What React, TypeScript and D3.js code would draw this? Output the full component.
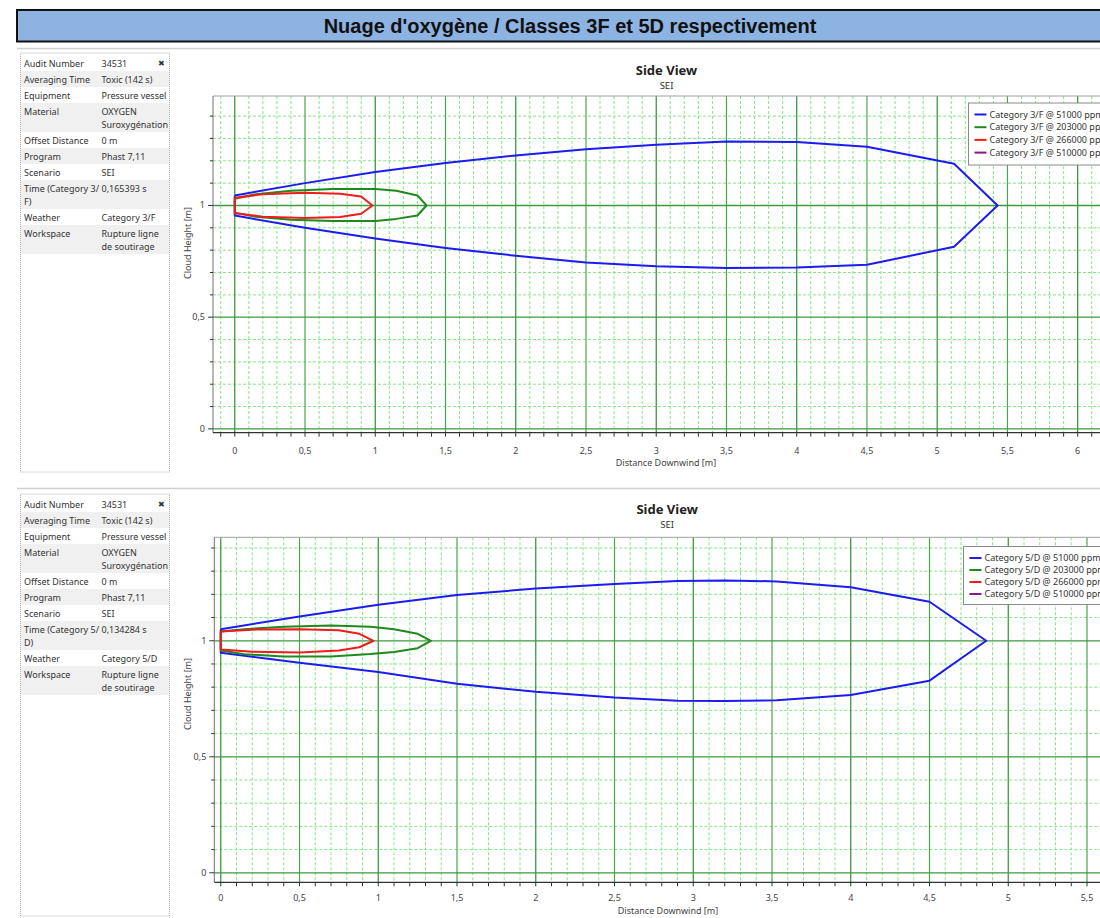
import React from 'react';
import * as d3 from 'd3';

// ---------- Text ----------
const TITLE = "Nuage d'oxygène / Classes 3F et 5D respectivement";
const CHART_TITLE = 'Side View';
const CHART_SUBTITLE = 'SEI';
const X_LABEL = 'Distance Downwind [m]';
const Y_LABEL = 'Cloud Height [m]';

// ---------- Legend / series ----------
const CONCENTRATIONS = ['51000', '203000', '266000', '510000'];
const SERIES_COLORS = ['#1c1cf0', '#1e8a1e', '#f01c1c', '#8a1a8a'];

// ---------- Tick labels ----------
const X_TICKS_TOP = [0, 0.5, 1, 1.5, 2, 2.5, 3, 3.5, 4, 4.5, 5, 5.5, 6];
const X_TICKS_BOTTOM = [0, 0.5, 1, 1.5, 2, 2.5, 3, 3.5, 4, 4.5, 5, 5.5];
const Y_TICKS = [0, 0.5, 1];

// ---------- Info panel ----------
const INFO_LABELS_3F = [
  ['Audit Number'], ['Averaging Time'], ['Equipment'], ['Material'], ['Offset Distance'],
  ['Program'], ['Scenario'], ['Time (Category 3/', 'F)'], ['Weather'], ['Workspace'],
];
const INFO_VALUES_3F = [
  ['34531'], ['Toxic (142 s)'], ['Pressure vessel'], ['OXYGEN', 'Suroxygénation'], ['0 m'],
  ['Phast 7,11'], ['SEI'], ['0,165393 s'], ['Category 3/F'], ['Rupture ligne', 'de soutirage'],
];
const INFO_LABELS_5D = [
  ['Audit Number'], ['Averaging Time'], ['Equipment'], ['Material'], ['Offset Distance'],
  ['Program'], ['Scenario'], ['Time (Category 5/', 'D)'], ['Weather'], ['Workspace'],
];
const INFO_VALUES_5D = [
  ['34531'], ['Toxic (142 s)'], ['Pressure vessel'], ['OXYGEN', 'Suroxygénation'], ['0 m'],
  ['Phast 7,11'], ['SEI'], ['0,134284 s'], ['Category 5/D'], ['Rupture ligne', 'de soutirage'],
];

// ---------- Cloud contours [distance, height] ----------
const CAT3F_51000: [number, number][] = [
  [0, 1.045], [0.5, 1.1], [1, 1.15], [1.5, 1.19], [2, 1.224], [2.5, 1.252], [3, 1.272], [3.5, 1.286],
  [4, 1.284], [4.5, 1.263], [5.12, 1.187], [5.43, 1.0],
  [5.12, 0.815], [4.5, 0.735], [4, 0.722], [3.5, 0.72], [3, 0.728], [2.5, 0.745], [2, 0.775],
  [1.5, 0.81], [1, 0.852], [0.5, 0.9], [0, 0.955], [0, 1.045],
];
const CAT3F_203000: [number, number][] = [
  [0, 1.03], [0.15, 1.05], [0.4, 1.066], [0.7, 1.074], [1.0, 1.074], [1.15, 1.066], [1.3, 1.045], [1.365, 1.0],
  [1.3, 0.955], [1.15, 0.94], [1.0, 0.93], [0.7, 0.93], [0.4, 0.936], [0.15, 0.95], [0, 0.968], [0, 1.03],
];
const CAT3F_266000: [number, number][] = [
  [0, 1.035], [0.2, 1.05], [0.5, 1.057], [0.75, 1.053], [0.9, 1.04], [0.98, 1.0],
  [0.9, 0.963], [0.75, 0.948], [0.5, 0.944], [0.2, 0.95], [0, 0.965], [0, 1.035],
];
const CAT3F_510000: [number, number][] = [];

const CAT5D_51000: [number, number][] = [
  [0, 1.05], [0.5, 1.105], [1, 1.155], [1.5, 1.197], [2, 1.225], [2.5, 1.245], [2.9, 1.258], [3.2, 1.26],
  [3.53, 1.256], [4, 1.231], [4.5, 1.168], [4.86, 1.0],
  [4.5, 0.828], [4, 0.766], [3.53, 0.744], [3.2, 0.74], [2.9, 0.742], [2.5, 0.755], [2, 0.78],
  [1.5, 0.815], [1, 0.865], [0.5, 0.905], [0, 0.948], [0, 1.05],
];
const CAT5D_203000: [number, number][] = [
  [0, 1.04], [0.15, 1.05], [0.4, 1.06], [0.7, 1.066], [0.95, 1.06], [1.1, 1.05], [1.25, 1.03], [1.335, 1.0],
  [1.25, 0.968], [1.1, 0.952], [0.95, 0.943], [0.7, 0.932], [0.4, 0.932], [0.15, 0.942], [0, 0.958], [0, 1.04],
];
const CAT5D_266000: [number, number][] = [
  [0, 1.04], [0.2, 1.048], [0.5, 1.05], [0.75, 1.045], [0.88, 1.03], [0.97, 1.0],
  [0.88, 0.972], [0.75, 0.958], [0.5, 0.95], [0.2, 0.953], [0, 0.962], [0, 1.04],
];
const CAT5D_510000: [number, number][] = [];

const FONT = "'Segoe UI', 'Noto Sans', 'Open Sans', sans-serif";
const fmt = (v: number) => d3.format('~g')(v).replace('.', ',');

type PanelProps = {
  top: number;
  panelBottom: number;
  labels: string[][];
  values: string[][];
  category: string;
  series: [number, number][][];
  xDomain: [number, number];
  xRange: [number, number];
  yDomain: [number, number];
  yRange: [number, number];
  xTicks: number[];
  titleY: number;
  xLabelPos: [number, number];
  yLabelPos: [number, number];
  tickLabelY: number;
  legend: { x: number; y: number; h: number; y0: number; step: number };
  clipId: string;
};

function InfoPanel({ top, bottom, labels, values }: { top: number; bottom: number; labels: string[][]; values: string[][] }) {
  let y = top + 2;
  const rows = labels.map((lab, i) => {
    const n = Math.max(lab.length, values[i].length);
    const h = n === 1 ? 16 : 29;
    const r = { y, h, lab, val: values[i], i };
    y += h;
    return r;
  });
  return (
    <g>
      <rect x={20.5} y={top} width={149} height={bottom - top} fill="#fff" stroke="#b0b0b0" strokeDasharray="1,1" />
      {rows.map((r) => (
        <g key={r.i}>
          {r.i % 2 === 1 && <rect x={21} y={r.y} width={148} height={r.h} fill="#f0f0f0" />}
          {r.lab.map((t, k) => (
            <text key={'l' + k} x={24} y={r.y + 11.5 + k * 13.5} fontSize={9} fontFamily={FONT} fill="#333">{t}</text>
          ))}
          {r.val.map((t, k) => (
            <text key={'v' + k} x={101.5} y={r.y + 11.5 + k * 13.5} fontSize={9} fontFamily={FONT} fill="#333">{t}</text>
          ))}
        </g>
      ))}
      <text x={161} y={top + 12.5} fontSize={8} fontFamily={FONT} fill="#333" textAnchor="middle">✖</text>
    </g>
  );
}

function Panel(p: PanelProps) {
  const x = d3.scaleLinear().domain(p.xDomain).range(p.xRange);
  const y = d3.scaleLinear().domain(p.yDomain).range(p.yRange);
  const [left, right] = p.xRange;
  const [bottom, top] = p.yRange;
  const xi = d3.range(Math.ceil(p.xDomain[0] * 10), Math.floor(p.xDomain[1] * 10) + 1);
  const yi = d3.range(Math.ceil(p.yDomain[0] * 10), Math.floor(p.yDomain[1] * 10) + 1);
  const line = d3.line<[number, number]>().x((d) => x(d[0])).y((d) => y(d[1]));
  const cx = (left + 1100) / 2 + 10;
  return (
    <g>
      <defs>
        <clipPath id={p.clipId}>
          <rect x={left} y={top} width={right - left} height={bottom - top} />
        </clipPath>
      </defs>
      <InfoPanel top={p.top} bottom={p.panelBottom} labels={p.labels} values={p.values} />
      <text x={cx} y={p.titleY} textAnchor="middle" fontSize={13} fontWeight="bold" fontFamily={FONT} fill="#222">{CHART_TITLE}</text>
      <text x={cx} y={p.titleY + 13.5} textAnchor="middle" fontSize={9.5} fontFamily={FONT} fill="#333">{CHART_SUBTITLE}</text>
      <rect x={left} y={top} width={right - left} height={bottom - top} fill="#fff" />
      <g clipPath={`url(#${p.clipId})`}>
        {xi.filter((i) => i % 5 !== 0).map((i) => (
          <line key={'mx' + i} x1={x(i / 10)} x2={x(i / 10)} y1={top} y2={bottom} stroke="#86e686" strokeDasharray="3,2" />
        ))}
        {yi.filter((i) => i % 5 !== 0).map((i) => (
          <line key={'my' + i} x1={left} x2={right} y1={y(i / 10)} y2={y(i / 10)} stroke="#86e686" strokeDasharray="3,2" />
        ))}
        {xi.filter((i) => i % 5 === 0).map((i) => (
          <line key={'Mx' + i} x1={x(i / 10)} x2={x(i / 10)} y1={top} y2={bottom} stroke={i % 10 === 0 ? '#2f8f2f' : '#4aa64a'} strokeWidth={1.2} />
        ))}
        {yi.filter((i) => i % 5 === 0).map((i) => (
          <line key={'My' + i} x1={left} x2={right} y1={y(i / 10)} y2={y(i / 10)} stroke="#3d9a3d" strokeWidth={1.3} />
        ))}
        {p.series.map((s, k) =>
          s.length ? (
            <path key={'s' + k} d={line(s) || ''} fill="none" stroke={SERIES_COLORS[k]} strokeWidth={2} strokeLinejoin="round" />
          ) : null
        )}
      </g>
      {/* border */}
      <line x1={left} x2={right} y1={top} y2={top} stroke="#a0a0a0" />
      <line x1={left} x2={left} y1={top} y2={bottom} stroke="#707070" />
      <line x1={left} x2={right} y1={bottom} y2={bottom} stroke="#333" strokeWidth={1.2} />
      {/* x ticks */}
      {xi.filter((i) => x(i / 10) >= left).map((i) => (
        <line key={'tx' + i} x1={x(i / 10)} x2={x(i / 10)} y1={bottom} y2={bottom + 4} stroke="#333" />
      ))}
      {p.xTicks.map((v) => (
        <text key={'lx' + v} x={x(v)} y={p.tickLabelY} textAnchor="middle" fontSize={9} fontFamily={FONT} fill="#444">{fmt(v)}</text>
      ))}
      {/* y ticks */}
      {yi.filter((i) => i >= 0).map((i) => (
        <line key={'ty' + i} x1={left - (i % 5 === 0 ? 5 : 3)} x2={left} y1={y(i / 10)} y2={y(i / 10)} stroke="#333" />
      ))}
      {Y_TICKS.map((v) => (
        <text key={'ly' + v} x={left - 8} y={y(v) + 3} textAnchor="end" fontSize={9} fontFamily={FONT} fill="#444">{fmt(v)}</text>
      ))}
      <text x={p.xLabelPos[0]} y={p.xLabelPos[1]} textAnchor="middle" fontSize={9} fontFamily={FONT} fill="#444">{X_LABEL}</text>
      <text transform={`translate(${p.yLabelPos[0]},${p.yLabelPos[1]}) rotate(-90)`} textAnchor="middle" fontSize={9} fontFamily={FONT} fill="#444">{Y_LABEL}</text>
      {/* legend */}
      <rect x={p.legend.x} y={p.legend.y} width={200} height={p.legend.h} fill="#fff" stroke="#8a8a8a" />
      {CONCENTRATIONS.map((c, k) => (
        <g key={'lg' + k}>
          <line x1={p.legend.x + 6} x2={p.legend.x + 18} y1={p.legend.y0 + k * p.legend.step} y2={p.legend.y0 + k * p.legend.step} stroke={SERIES_COLORS[k]} strokeWidth={2} />
          <text x={p.legend.x + 21} y={p.legend.y0 + k * p.legend.step + 3} fontSize={9} fontFamily={FONT} fill="#333">{`Category ${p.category} @ ${c} ppm`}</text>
        </g>
      ))}
    </g>
  );
}

export default function App() {
  return (
    <svg width={1100} height={918} style={{ position: 'absolute', left: 0, top: 0, display: 'block', background: '#fff' }}>
      <rect x={0} y={0} width={1100} height={918} fill="#fff" />
      <rect x={17} y={10} width={1090} height={31.5} fill="#8db3e2" stroke="#111" strokeWidth={2} />
      <text x={570} y={32.5} textAnchor="middle" fontSize={20} fontWeight="bold" fontFamily="'Liberation Sans', Arial, sans-serif" fill="#111">{TITLE}</text>
      <line x1={17} x2={1100} y1={48.5} y2={48.5} stroke="#d0d0d0" strokeWidth={1.5} />
      <line x1={17} x2={1100} y1={488.5} y2={488.5} stroke="#d0d0d0" strokeWidth={1.5} />
      <Panel
        top={53}
        panelBottom={472}
        labels={INFO_LABELS_3F}
        values={INFO_VALUES_3F}
        category="3/F"
        series={[CAT3F_51000, CAT3F_203000, CAT3F_266000, CAT3F_510000]}
        xDomain={[-0.155, 6.23]}
        xRange={[213, 1110]}
        yDomain={[-0.017, 1.49]}
        yRange={[432.7, 96]}
        xTicks={X_TICKS_TOP}
        titleY={75}
        xLabelPos={[666, 466]}
        yLabelPos={[191, 243]}
        tickLabelY={454}
        legend={{ x: 968.5, y: 103, h: 62, y0: 114.5, step: 12.7 }}
        clipId="clipTop"
      />
      <Panel
        top={494}
        panelBottom={916}
        labels={INFO_LABELS_5D}
        values={INFO_VALUES_5D}
        category="5/D"
        series={[CAT5D_51000, CAT5D_203000, CAT5D_266000, CAT5D_510000]}
        xDomain={[-0.041, 5.646]}
        xRange={[214.3, 1110]}
        yDomain={[-0.041, 1.446]}
        yRange={[882.3, 537.3]}
        xTicks={X_TICKS_BOTTOM}
        titleY={514}
        xLabelPos={[668, 914]}
        yLabelPos={[191, 694]}
        tickLabelY={901}
        legend={{ x: 963.5, y: 546.5, h: 58, y0: 558, step: 12 }}
        clipId="clipBottom"
      />
    </svg>
  );
}
